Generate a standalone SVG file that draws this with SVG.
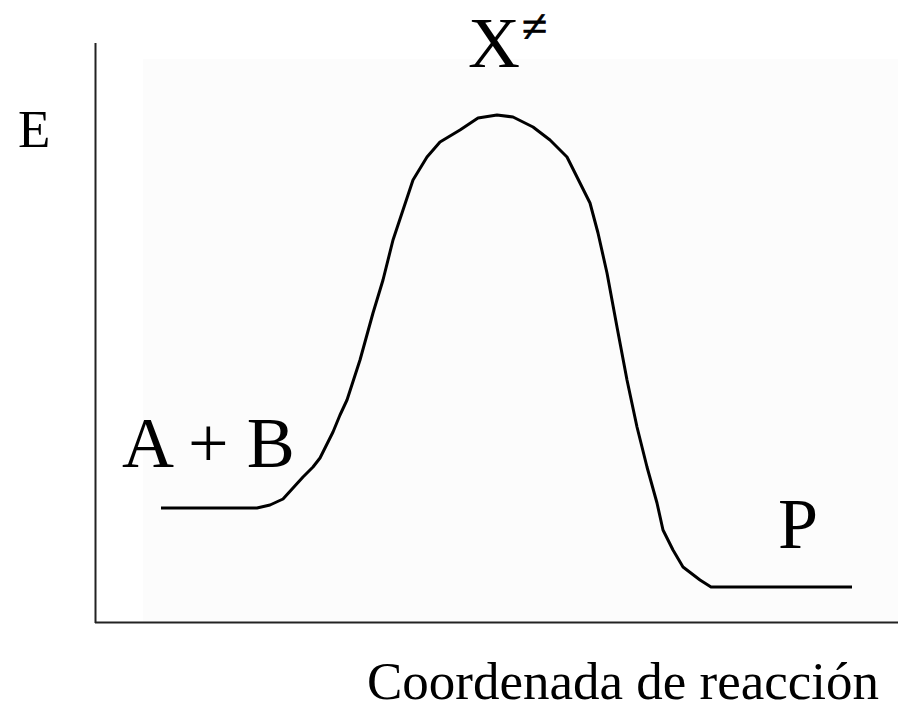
<svg xmlns="http://www.w3.org/2000/svg" width="898" height="704" viewBox="0 0 898 704">
<style>
text{font-family:"Liberation Serif","Times New Roman","DejaVu Serif",serif;fill:#000}
.axis{stroke:#222;stroke-width:2;fill:none}
.curve{stroke:#000;stroke-width:3;fill:none;stroke-linejoin:round}
</style>
<rect width="898" height="704" fill="#fff"/>
<rect x="143" y="59" width="755" height="563" fill="#fcfcfc"/>
<g id="axes">
<line class="axis" x1="95.5" y1="43" x2="95.5" y2="623"/>
<line class="axis" x1="95" y1="622.5" x2="898" y2="622.5"/>
</g>
<g id="connectors">
<polyline class="curve" points="161,508 257,508 270,505 283,499 293,488 303,477 313,467 320,458 327,444 333,432 340,415 347,400 360,360 373,313 383,280 393,240 403,210 413,180 427,157 440,142 460,130 478,118 497,115 513,117 533,127 550,140 567,157 577,177 590,203 598,233 607,273 617,327 627,380 637,427 647,467 657,503 663,530 673,550 683,567 700,580 711,587 852,587"/>
</g>
<g id="label-E"><text x="18" y="147" font-family="Liberation Serif, serif" font-size="53">E</text></g>
<g id="label-X"><text x="468" y="67" font-family="Liberation Serif, serif" font-size="72">X</text><text x="522" y="42" font-family="Liberation Serif, serif" font-size="46" stroke="#000" stroke-width="0.8">≠</text></g>
<g id="label-AB"><text x="122" y="467" font-family="Liberation Serif, serif" font-size="72">A + B</text></g>
<g id="label-P"><text x="778" y="548" font-family="Liberation Serif, serif" font-size="72">P</text></g>
<g id="label-axis"><text x="367" y="699" font-family="Liberation Serif, serif" font-size="53">Coordenada de reacción</text></g>
</svg>
